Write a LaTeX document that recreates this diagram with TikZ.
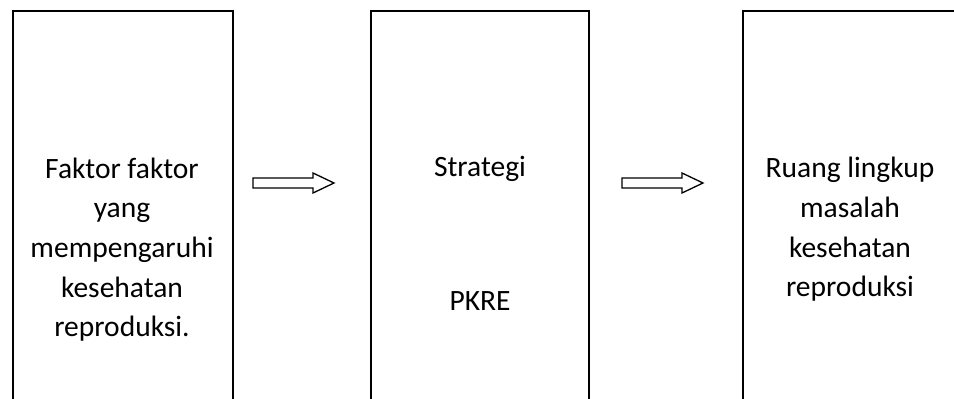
\documentclass[tikz,border=0pt]{standalone}
\usepackage{fontspec}
\setmainfont{Carlito}
\begin{document}
\begin{tikzpicture}[x=1pt,y=1pt,
  box/.style={draw=black,line width=1.6pt},
  lbl/.style={font=\fontsize{29.5}{39.7}\selectfont,align=center,anchor=base,inner sep=0pt},
  blockarrow/.style={draw=black,line width=1.3pt,fill=white,line join=miter}]
\useasboundingbox (0,0) rectangle (954,399);
\clip (0,0) rectangle (954,399);
% boxes (extend below the picture's bottom edge)
\node[box,minimum width=220pt,minimum height=420pt,anchor=north west,inner sep=0pt] (b1) at (12,389) {};
\node[box,minimum width=218pt,minimum height=420pt,anchor=north west,inner sep=0pt] (b2) at (370,389) {};
\node[box,minimum width=216pt,minimum height=420pt,anchor=north west,inner sep=0pt] (b3) at (742,389) {};
% texts (base anchor = baseline of the last line)
\node[lbl] (t1) at (122,62) {Faktor faktor\\yang\\mempengaruhi\\kesehatan\\reproduksi.};
\node[lbl] (t2a) at (480,222) {Strategi};
\node[lbl] (t2b) at (480,88) {PKRE};
\node[lbl] (t3) at (850,102) {Ruang lingkup\\masalah\\kesehatan\\reproduksi};
% block arrows
\coordinate (a1) at (253,216);
\coordinate (a2) at (622,216);
\foreach \a in {a1,a2}{
  \draw[blockarrow] (\a) ++(0,5) -- ++(60,0) -- ++(0,5) -- ++(21,-10) -- ++(-21,-10) -- ++(0,5) -- ++(-60,0) -- cycle;
}
\end{tikzpicture}
\end{document}
